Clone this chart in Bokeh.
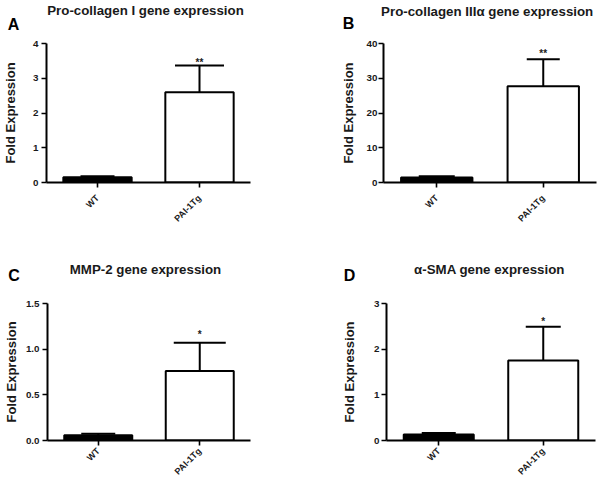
from bokeh.plotting import figure
from bokeh.layouts import column, row
from bokeh.models import (FactorRange, Range1d, FixedTicker, Whisker, TeeHead,
                          ColumnDataSource, PrintfTickFormatter)
from bokeh.core.properties import value
from bokeh.embed import file_html
from bokeh.resources import INLINE
import math

# ---------------- data ----------------
groups = ["WT", "PAI-1Tg"]

titles = ["Pro-collagen I gene expression", "Pro-collagen  III\u03b1 gene expression",
          "MMP-2 gene expression", "\u03b1-SMA gene expression"]
letters = ["A", "B", "C", "D"]

a_mean = [0.15, 2.60]
a_err = [0.03, 0.77]
b_mean = [1.45, 27.7]
b_err = [0.35, 7.8]
c_mean = [0.057, 0.76]
c_err = [0.016, 0.31]
d_mean = [0.13, 1.75]
d_err = [0.035, 0.74]

stars_a = ["", "**"]
stars_b = ["", "**"]
stars_c = ["", "*"]
stars_d = ["", "*"]

y_max = [4, 40, 1.5, 3]
y_ticks = [[0, 1, 2, 3, 4], [0, 10, 20, 30, 40], [0, 0.5, 1.0, 1.5], [0, 1, 2, 3]]
y_fmt = ["%d", "%d", "%.1f", "%d"]

# ---------------- style / layout ----------------
FONT = "Liberation Sans"
INK = "#1a1a1a"
W = 300
HEAD_H = [32, 50]
CHART_H = [208, 193]
# (left, right, top, bottom) borders of each chart
borders = [(42, 50, 11, 58), (83, 4, 11, 57), (42, 50, 12, 42), (86, 5, 13, 42)]
tick_label_standoff = [3, 1, 3, 2]
axis_label_standoff = [12, 8, 4, 14]
x_label_standoff = [9, 9, 4, 4]
star_offset = [-3, -6, -8, -5]
head_size = [(34, 49), (36, 33), (34, 52), (34, 35)]
# header text positions (x centre, y baseline from header bottom)
letter_xy = [(13, 8), (48, 9), (13.5, 15), (49, 15)]
title_xy = [(145, 22), (188.5, 21), (145, 21), (189, 21)]

means = [a_mean, b_mean, c_mean, d_mean]
errs = [a_err, b_err, c_err, d_err]
stars = [stars_a, stars_b, stars_c, stars_d]


def header(i):
    h = HEAD_H[i // 2]
    p = figure(width=W, height=h, x_range=Range1d(0, W), y_range=Range1d(0, h),
               min_border=0, x_axis_location=None, y_axis_location=None,
               output_backend="svg", toolbar_location=None, tools="")
    p.outline_line_color = None
    p.grid.visible = False
    lx, ly = letter_xy[i]
    tx, ty = title_xy[i]
    p.text(x=[lx], y=[ly], text=[letters[i]], text_align="center",
           text_baseline="alphabetic", text_font=value(FONT), text_font_style="bold",
           text_font_size="16px", text_color="black")
    p.text(x=[tx], y=[ty], text=[titles[i]], text_align="center",
           text_baseline="alphabetic", text_font=value(FONT), text_font_style="bold",
           text_font_size="13.3px", text_color=INK)
    return p


def chart(i):
    lb, rb, tb, bb = borders[i]
    p = figure(width=W, height=CHART_H[i // 2],
               x_range=FactorRange(factors=groups, range_padding=0),
               y_range=Range1d(0, y_max[i]),
               min_border_left=lb, min_border_right=rb,
               min_border_top=tb, min_border_bottom=bb,
               output_backend="svg", toolbar_location=None, tools="")
    p.outline_line_color = None
    p.grid.visible = False

    top = [m + e for m, e in zip(means[i], errs[i])]
    src = ColumnDataSource(dict(x=groups, mean=means[i], top=top,
                                fill=["black", "white"], star=stars[i]))
    p.vbar(x="x", top="mean", bottom=0, width=0.67, source=src,
           fill_color="fill", line_color="black", line_width=2)
    for k in range(len(groups)):
        s = ColumnDataSource(dict(x=[groups[k]], lo=[means[i][k]], hi=[top[k]]))
        p.add_layout(Whisker(base="x", lower="lo", upper="hi", source=s,
                             line_color="black", line_width=2,
                             upper_head=TeeHead(size=head_size[i][k], line_color="black",
                                                line_width=2),
                             lower_head=None))
    p.text(x="x", y="top", text="star", source=src, text_align="center",
           text_baseline="alphabetic", y_offset=star_offset[i], text_font=value(FONT),
           text_font_size="10px", text_font_style="bold", text_color=INK)

    for ax in (p.xaxis[0], p.yaxis[0]):
        ax.axis_line_width = 2
        ax.axis_line_color = "black"
        ax.major_tick_line_width = 1.6
        ax.major_tick_line_color = "black"
        ax.major_tick_out = 5
        ax.major_tick_in = 0
        ax.minor_tick_line_color = None
        ax.major_label_text_font = FONT
        ax.major_label_text_font_style = "bold"
        ax.major_label_text_color = INK
    p.yaxis.major_label_text_font_size = "9.8px"
    p.yaxis.major_label_standoff = tick_label_standoff[i]
    p.yaxis.ticker = FixedTicker(ticks=y_ticks[i])
    p.yaxis.formatter = PrintfTickFormatter(format=y_fmt[i])
    p.yaxis.axis_label = "Fold Expression"
    p.yaxis.axis_label_text_font = FONT
    p.yaxis.axis_label_text_font_style = "bold"
    p.yaxis.axis_label_text_font_size = "13px"
    p.yaxis.axis_label_text_color = INK
    p.yaxis.axis_label_standoff = axis_label_standoff[i]

    p.xaxis.major_label_text_font_size = "9px"
    p.xaxis.major_label_orientation = math.pi / 4
    p.xaxis.major_label_standoff = x_label_standoff[i]
    return p


heads = [header(i) for i in range(4)]
charts = [chart(i) for i in range(4)]

layout = column(row(heads[0], heads[1]), row(charts[0], charts[1]),
                row(heads[2], heads[3]), row(charts[2], charts[3]))
open("out.html", "w").write(file_html(layout, INLINE))
